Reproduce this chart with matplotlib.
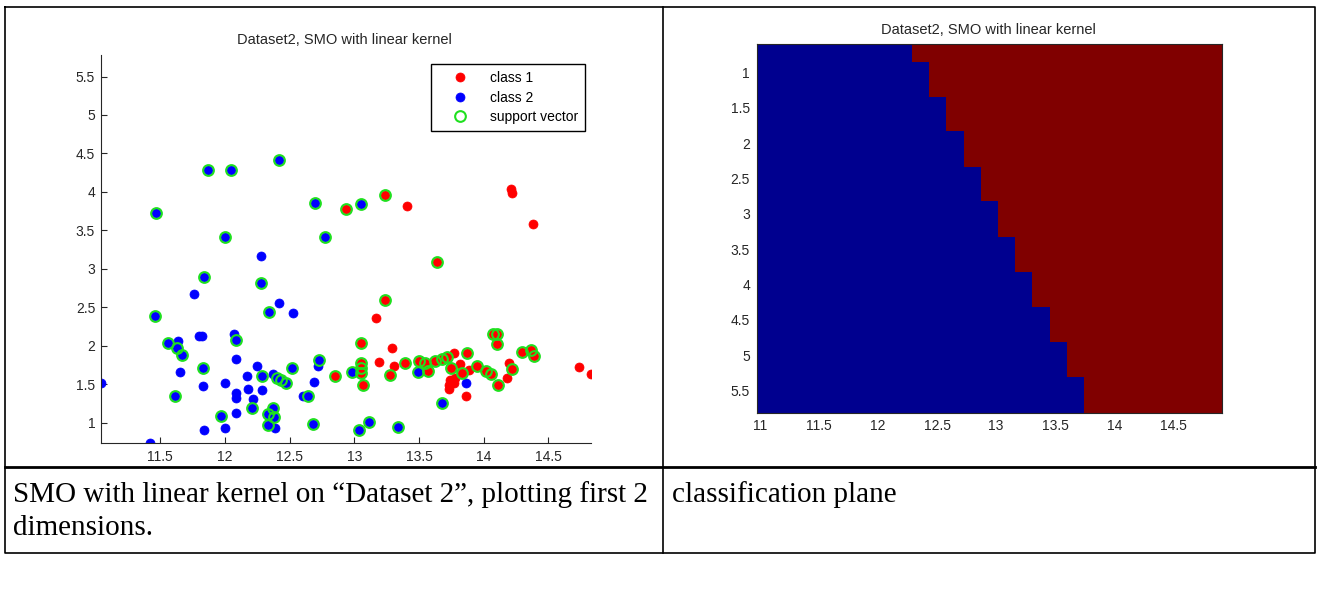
import matplotlib.pyplot as plt
import numpy as np
from matplotlib.colors import ListedColormap
from matplotlib.ticker import FuncFormatter

# class 1 (red) points, 1 = support vector
c1_x = [12.935, 13.24, 13.41, 14.21, 14.22, 14.38, 13.64, 13.24, 13.17, 13.05,
        13.29, 13.195, 13.31, 13.39, 13.50, 13.55, 13.57, 13.28, 13.05, 13.05,
        13.05, 13.07, 12.85, 14.07, 14.10, 14.10, 14.30, 14.37, 14.39, 13.87,
        13.77, 13.715, 13.68, 13.625, 13.75, 13.82, 13.83, 13.89, 13.95, 14.02,
        14.06, 14.11, 14.20, 14.22, 14.18, 14.74, 14.83, 13.74, 13.73, 13.73,
        13.78, 13.865, 13.77]
c1_y = [3.78, 3.96, 3.82, 4.04, 3.98, 3.58, 3.09, 2.60, 2.36, 2.04,
        1.97, 1.785, 1.73, 1.77, 1.80, 1.78, 1.67, 1.62, 1.77, 1.71,
        1.64, 1.49, 1.60, 2.15, 2.15, 2.02, 1.915, 1.945, 1.86, 1.90,
        1.90, 1.85, 1.82, 1.80, 1.71, 1.76, 1.65, 1.685, 1.73, 1.67,
        1.63, 1.49, 1.77, 1.69, 1.58, 1.72, 1.63, 1.555, 1.49, 1.43,
        1.58, 1.35, 1.51]
c1_sv = [1, 1, 0, 0, 0, 0, 1, 1, 0, 1,
         0, 0, 0, 1, 1, 1, 1, 1, 1, 1,
         1, 1, 1, 1, 1, 1, 1, 1, 1, 1,
         0, 1, 1, 1, 1, 0, 1, 0, 1, 1,
         1, 1, 0, 1, 0, 0, 0, 0, 0, 0,
         0, 0, 0]

# class 2 (blue) points
c2_x = [11.87, 12.05, 11.47, 12.00, 11.84, 11.765, 12.28, 12.28, 12.42, 12.70,
        13.05, 12.77, 12.42, 12.34, 12.53, 11.456, 11.56, 11.64, 11.63, 11.67,
        11.655, 11.616, 11.04, 11.42, 11.80, 11.82, 11.83, 11.83, 11.84, 11.97,
        12.00, 12.00, 12.07, 12.085, 12.085, 12.085, 12.085, 12.085, 12.17, 12.18,
        12.216, 12.21, 12.25, 12.29, 12.29, 12.375, 12.40, 12.43, 12.47, 12.52,
        12.375, 12.33, 12.38, 12.33, 12.39, 12.68, 12.73, 12.72, 12.69, 12.64,
        12.60, 12.985, 13.04, 13.115, 13.34, 13.49, 13.865, 13.68]
c2_y = [4.29, 4.28, 3.72, 3.41, 2.89, 2.67, 3.17, 2.82, 4.41, 3.85,
        3.84, 3.41, 2.55, 2.44, 2.42, 2.39, 2.04, 2.06, 1.975, 1.88,
        1.66, 1.35, 1.51, 0.73, 2.12, 2.12, 1.715, 1.47, 0.90, 1.09,
        0.93, 1.51, 2.15, 2.07, 1.82, 1.38, 1.32, 1.13, 1.60, 1.44,
        1.30, 1.19, 1.73, 1.60, 1.425, 1.63, 1.58, 1.55, 1.51, 1.715,
        1.195, 1.11, 1.07, 0.97, 0.935, 0.98, 1.815, 1.74, 1.53, 1.34,
        1.34, 1.66, 0.90, 1.01, 0.94, 1.66, 1.52, 1.25]
c2_sv = [1, 1, 1, 1, 1, 0, 0, 1, 1, 1,
         1, 1, 0, 1, 0, 1, 1, 0, 1, 1,
         0, 1, 0, 0, 0, 0, 1, 0, 0, 1,
         0, 0, 0, 1, 0, 0, 0, 0, 0, 0,
         0, 1, 0, 1, 0, 0, 1, 1, 1, 1,
         1, 1, 1, 1, 0, 1, 1, 0, 0, 1,
         0, 1, 1, 1, 1, 1, 0, 1]

# classification plane: cell edges and number of class-2 columns per row
plane_x = np.linspace(10.975, 14.91, 28)
plane_y = [0.6, 0.845, 1.34, 1.83, 2.33, 2.82, 3.33, 3.82, 4.32, 4.81, 5.31, 5.82]
blue_cols = [9, 10, 11, 12, 13, 14, 15, 16, 17, 18, 19]

W, H = 1318, 589
plt.rcParams['font.family'] = ['Liberation Sans', 'DejaVu Sans']
txt = '#262626'

fig = plt.figure(figsize=(W / 100, H / 100), dpi=100)
fmt = FuncFormatter(lambda v, p: '%g' % v)

# left: scatter
ax1 = fig.add_axes([100.7 / W, 1 - 443.3 / H, 490.3 / W, 388.3 / H])
ax1.plot(c1_x, c1_y, 'o', color='red', ms=6.5, mec='red', mew=0.5, label='class 1')
ax1.plot(c2_x, c2_y, 'o', color='blue', ms=6.5, mec='blue', mew=0.5, label='class 2')
sv_x = [x for x, s in zip(c1_x, c1_sv) if s] + [x for x, s in zip(c2_x, c2_sv) if s]
sv_y = [y for y, s in zip(c1_y, c1_sv) if s] + [y for y, s in zip(c2_y, c2_sv) if s]
ax1.plot(sv_x, sv_y, 'o', mfc='none', mec='#1fe01f', ms=7.7, mew=1.5, label='support vector')
ax1.set_xlim(11.04, 14.83)
ax1.set_ylim(0.73, 5.78)
ax1.set_xticks(np.arange(11.5, 14.6, 0.5))
ax1.set_yticks(np.arange(1, 5.6, 0.5))
ax1.xaxis.set_major_formatter(fmt)
ax1.yaxis.set_major_formatter(fmt)
for s in ['top', 'right']:
    ax1.spines[s].set_visible(False)
for s in ['left', 'bottom']:
    ax1.spines[s].set_color(txt)
ax1.tick_params(direction='in', length=4, width=0.8, colors=txt, labelsize=10)
ax1.tick_params(axis='x', pad=5)
ax1.tick_params(axis='y', pad=4)
leg = ax1.legend(loc='upper right', bbox_to_anchor=(0.9877, 0.9768), borderaxespad=0,
                 fancybox=False, edgecolor='black', framealpha=1, fontsize=10,
                 handlelength=3.2, handletextpad=0.55, borderpad=0.5, labelspacing=0.4)
leg.get_frame().set_linewidth(1.0)

# right: classification plane
ax2 = fig.add_axes([757 / W, 1 - 413.3 / H, 464.7 / W, 369 / H])
grid = np.array([[0 if j < b else 1 for j in range(len(plane_x) - 1)] for b in blue_cols])
ax2.pcolormesh(plane_x, plane_y, grid, cmap=ListedColormap(['#00008f', '#800000']))
ax2.set_xlim(plane_x[0], plane_x[-1])
ax2.set_ylim(plane_y[-1], plane_y[0])
ax2.set_xticks(np.arange(11, 14.6, 0.5))
ax2.set_yticks(np.arange(1, 5.6, 0.5))
ax2.xaxis.set_major_formatter(fmt)
ax2.yaxis.set_major_formatter(fmt)
for s in ax2.spines.values():
    s.set_color(txt)
    s.set_linewidth(0.8)
ax2.tick_params(direction='in', length=0, colors=txt, labelsize=10)
ax2.tick_params(axis='x', pad=4)
ax2.tick_params(axis='y', pad=5)

# page: table lines, titles and captions
ov = fig.add_axes([0, 0, 1, 1], zorder=-1)
ov.set_xlim(0, W)
ov.set_ylim(H, 0)
ov.axis('off')
ov.plot([4.5, 1314.5, 1314.5, 4.5, 4.5], [7, 7, 553, 553, 7], color='black', lw=1.2)
ov.plot([662.5, 662.5], [7, 553], color='black', lw=1.2)
ov.plot([4.5, 1314.5], [467, 467], color='black', lw=2)

ov.text(344, 40, 'Dataset2, SMO with linear kernel', ha='center', va='center',
        fontsize=10.5, color=txt)
ov.text(988, 30, 'Dataset2, SMO with linear kernel', ha='center', va='center',
        fontsize=10.5, color=txt)

serif = ['Liberation Serif', 'DejaVu Serif']
ov.text(13, 495, 'SMO with linear kernel on \u201cDataset 2\u201d, plotting first 2',
        ha='left', va='center', fontsize=21, family=serif)
ov.text(13, 528, 'dimensions.', ha='left', va='center', fontsize=21, family=serif)
ov.text(672, 495, 'classification plane', ha='left', va='center', fontsize=21, family=serif)

fig.savefig('out.png', dpi=100)
